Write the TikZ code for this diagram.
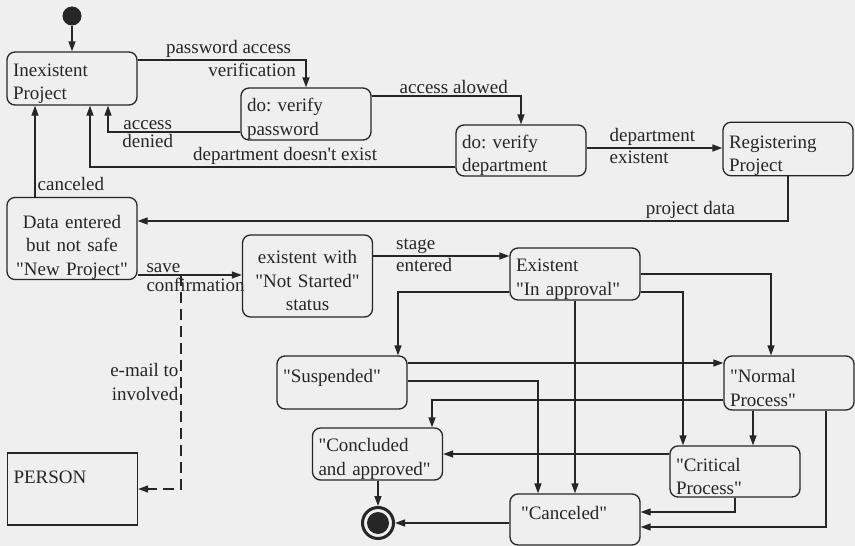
\documentclass[tikz,border=0pt]{standalone}
\usepackage{fontspec}
\setmainfont{Liberation Serif}[Ligatures=TeXOff]
\usetikzlibrary{arrows.meta}
\definecolor{ink}{HTML}{262626}
\definecolor{paper}{HTML}{EFEFEF}
\frenchspacing
\begin{document}
\begin{tikzpicture}[x=1pt,y=-1pt,
  every node/.style={font=\fontsize{19}{23.5}\selectfont\frenchspacing, text=ink},
  state/.style={draw=ink, line width=1.3pt, rounded corners=8pt, inner xsep=6pt, inner ysep=0pt,
    align=left, minimum width=130pt, text width=118pt,
    execute at begin node={\rule{0pt}{23pt}}},
  conn/.style={draw=ink, line width=1.3pt, -{Triangle[length=10pt,width=7pt]}},
  lab/.style={inner sep=2pt}]
\useasboundingbox (0,0) rectangle (855,546);
\fill[paper] (0,0) rectangle (855,546);

% states
\node[circle, fill=ink, minimum size=19pt, inner sep=0pt] (init) at (72,16) {};
\node[state, minimum height=53pt] (inex) at (72,78.5) {Inexistent\\Project};
\node[state, minimum height=52pt] (vpass) at (306,114) {do: verify\\password};
\node[state, minimum height=51pt] (vdep) at (521,150.5) {do: verify\\department};
\node[state, minimum height=52pt, execute at begin node={\rule{0pt}{26pt}}] (reg) at (788,149) {Registering\\Project};
\node[state, align=center, minimum height=81pt, execute at begin node={\rule{0pt}{31pt}}] (data) at (72,238.5) {Data entered\\but not safe\\"New Project"};
\node[state, align=center, minimum height=82pt] (notst) at (307.5,276) {existent with\\"Not Started"\\status};
\node[state, minimum height=52pt] (inappr) at (575,274) {Existent\\"In approval"};
\node[state, minimum height=53pt] (susp) at (342,382.5) {"Suspended"\\\mbox{}};
\node[state, minimum height=54pt] (normal) at (789,383) {"Normal\\Process"};
\node[state, minimum height=52pt] (concl) at (377.5,454) {"Concluded\\and approved"};
\node[state, minimum height=51pt] (crit) at (735,471.5) {"Critical\\Process"};
\node[state, minimum height=51pt, inner xsep=11pt, text width=108pt] (canc) at (575,519.5) {"Canceled"\\\mbox{}};
\node[state, rounded corners=0pt, minimum height=72pt, execute at begin node={}] (person) at (72.5,489) {PERSON\\[10pt]\mbox{}};
\node[draw=ink, circle, line width=3pt, minimum size=31pt, inner sep=0pt,
  path picture={\fill[ink] (path picture bounding box.center) circle (11pt);}] (final) at (378,523) {};

% transitions
\draw[conn] (init) -- (inex);
\draw[conn] (inex.east |- 0,60) -| (vpass.north)
  node[lab,pos=0.27,above]{password access}
  node[lab,pos=0.34,below]{verification};
\draw[conn] (vpass.west |- 0,132) -| (inex.south -| 108,0)
  node[lab,pos=0.35,above]{access}
  node[lab,pos=0.35,below]{denied};
\draw[conn] (vpass.east |- 0,96) -| (vdep.north)
  node[lab,pos=0.275,above]{access alowed};
\draw[conn] (vdep.west |- 0,167) -| (inex.south -| 90,0)
  node[lab,pos=0.233,above]{department doesn't exist};
\draw[conn] (vdep.east |- 0,148) -- (reg.west |- 0,148)
  node[lab,pos=0.15,anchor=south west]{department}
  node[lab,pos=0.15,anchor=north west]{existent};
\draw[conn] (reg.south) |- (data.east |- 0,221)
  node[lab,pos=0.575,above]{project data};
\draw[conn] (data.north -| 35,0) -- (inex.south -| 35,0)
  node[lab,pos=0.14,right]{canceled};
\draw[conn] (data.east |- 0,275) -- (notst.west |- 0,275)
  node[lab,pos=0.06,anchor=south west]{save}
  node[lab,pos=0.06,anchor=north west]{confirmation};
\coordinate (mail) at (181,275);
\draw[conn, dash pattern=on 11pt off 6pt] (mail) |- (person.east |- 0,489)
  node[lab,pos=0.25,left,align=right]{e-mail to\\involved};
\draw[conn] (notst.east |- 0,256) -- (inappr.west |- 0,256)
  node[lab,pos=0.15,anchor=south west]{stage}
  node[lab,pos=0.15,anchor=north west]{entered};
\draw[conn] (inappr.west |- 0,292) -| (susp.north -| 398,0);
\draw[conn] (inappr.east |- 0,274) -| (normal.north -| 771,0);
\draw[conn] (inappr.east |- 0,292) -| (crit.north -| 683,0);
\draw[conn] (inappr.south) -- (canc.north);
\draw[conn] (susp.east |- 0,363) -- (normal.west |- 0,363);
\draw[conn] (susp.east |- 0,381) -| (canc.north -| 538,0);
\draw[conn] (normal.west |- 0,400) -| (concl.north -| 432,0);
\draw[conn] (crit.west |- 0,454) -- (concl.east |- 0,454);
\draw[conn] (normal.south -| 753,0) -- (crit.north -| 753,0);
\draw[conn] (crit.south -| 735,0) |- (canc.east |- 0,512);
\draw[conn] (normal.south -| 826,0) |- (canc.east |- 0,527);
\draw[conn] (concl.south -| 378,0) -- (final);
\draw[conn] (canc.west |- 0,523) -- (final);
\end{tikzpicture}
\end{document}
